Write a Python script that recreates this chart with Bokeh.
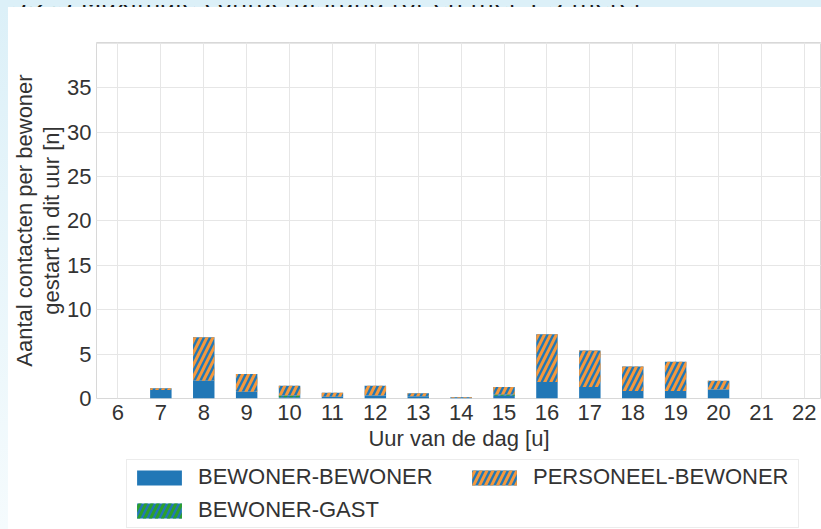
from bokeh.plotting import figure
from bokeh.models import (ColumnDataSource, FixedTicker, Legend, LegendItem,
                          LinearAxis, Range1d, Div)
from bokeh.layouts import column, row
from bokeh.embed import file_html
from bokeh.resources import INLINE

# Contacts per resident started in each hour, split by contact type
hours = [6, 7, 8, 9, 10, 11, 12, 13, 14, 15, 16, 17, 18, 19, 20, 21, 22]
bewoner_bewoner = [0, 0.95, 2.0, 0.75, 0.15, 0.2, 0.35, 0.25, 0.08, 0.3, 1.85, 1.3, 0.85, 0.85, 1.0, 0, 0]
bewoner_gast = [0, 0, 0, 0, 0.2, 0, 0, 0, 0, 0.15, 0, 0, 0, 0, 0, 0, 0]
personeel_bewoner = [0, 0.2, 4.9, 2.0, 1.1, 0.45, 1.1, 0.35, 0.1, 0.85, 5.4, 4.1, 2.75, 3.3, 1.0, 0, 0]

series = ["bewoner_bewoner", "bewoner_gast", "personeel_bewoner"]
series_labels = ["BEWONER-BEWONER", "BEWONER-GAST", "PERSONEEL-BEWONER"]
y_ticks = [0, 5, 10, 15, 20, 25, 30, 35]

BLUE = "#2177b6"
ORANGE = "#f5983c"
GREEN = "#2ca02c"
TEXT = "#333333"
FONT = "Liberation Sans"
SIZE = "22px"

fill_colors = [BLUE, BLUE, BLUE]
hatch_colors = [BLUE, GREEN, ORANGE]
hatch_alphas = [0, 1, 1]
HATCH = dict(hatch_pattern="/", hatch_weight=3, hatch_scale=12)

src = ColumnDataSource(dict(hour=hours, bewoner_bewoner=bewoner_bewoner,
                            bewoner_gast=bewoner_gast,
                            personeel_bewoner=personeel_bewoner))

p = figure(width=813, height=448,
           x_range=Range1d(5.5, 22.4), y_range=Range1d(0, 40.1),
           output_backend="svg", toolbar_location=None,
           min_border_left=88, min_border_right=0,
           min_border_top=35, min_border_bottom=57,
           background_fill_color="white", border_fill_color="white")

bars = p.vbar_stack(series, x="hour", width=0.5, source=src,
                    fill_color=fill_colors, line_color=None,
                    hatch_color=hatch_colors, hatch_alpha=hatch_alphas, **HATCH)

# axes and grid
p.xaxis.ticker = FixedTicker(ticks=hours)
p.yaxis.ticker = FixedTicker(ticks=y_ticks)
p.xgrid.ticker = FixedTicker(ticks=hours)
p.ygrid.ticker = FixedTicker(ticks=y_ticks + [40])
for g in (p.xgrid, p.ygrid):
    g.grid_line_color = "#e6e6e6"
    g.grid_line_width = 1
p.outline_line_color = "#d8d8d8"

for ax in (p.xaxis, p.yaxis):
    ax.axis_line_color = None
    ax.major_tick_line_color = None
    ax.minor_tick_line_color = None
    ax.major_tick_out = 0
    ax.major_tick_in = 0
    ax.minor_tick_out = 0
    ax.major_label_text_font = FONT
    ax.major_label_text_font_size = SIZE
    ax.major_label_text_color = TEXT
    ax.axis_label_text_font = FONT
    ax.axis_label_text_font_size = SIZE
    ax.axis_label_text_font_style = "normal"
    ax.axis_label_text_color = TEXT

p.xaxis.axis_label = "Uur van de dag [u]"
p.xaxis.major_label_standoff = 6
p.xaxis.axis_label_standoff = 3
p.yaxis.axis_label = "gestart in dit uur [n]"
p.yaxis.major_label_standoff = 5
p.yaxis.axis_label_standoff = 0

# first line of the two-line y label
outer = LinearAxis(ticker=FixedTicker(ticks=[]),
                   axis_label="Aantal contacten per bewoner",
                   axis_line_color=None, major_tick_line_color=None,
                   minor_tick_line_color=None, major_label_standoff=0,
                   major_tick_out=0, major_tick_in=0, minor_tick_out=0,
                   axis_label_standoff=0,
                   axis_label_text_font=FONT, axis_label_text_font_size=SIZE,
                   axis_label_text_font_style="normal",
                   axis_label_text_color=TEXT)
p.add_layout(outer, "left")

# legend strip under the chart; its key renderers carry the same styles and
# one point that lies outside the visible range
lg = figure(width=813, height=74, x_range=Range1d(0, 1), y_range=Range1d(0, 1),
            output_backend="svg", toolbar_location=None,
            x_axis_location=None, y_axis_location=None,
            min_border=0, outline_line_color=None,
            background_fill_color="white", border_fill_color="white")
lg.grid.visible = False
offscreen = ColumnDataSource(dict(x=[-10], top=[0]))
keys = []
for fc, hc, ha in zip(fill_colors, hatch_colors, hatch_alphas):
    keys.append(lg.vbar(x="x", top="top", width=0.5, source=offscreen,
                        fill_color=fc, line_color=None,
                        hatch_color=hc, hatch_alpha=ha, **HATCH))

order = [0, 2, 1]
legend = Legend(items=[LegendItem(label=series_labels[i], renderers=[keys[i]])
                       for i in order],
                nrows=2, orientation="horizontal", location=(30, 1),
                label_text_font=FONT, label_text_font_size=SIZE,
                label_text_color=TEXT, glyph_width=56, glyph_height=19,
                label_standoff=11, label_width=261, spacing=7, padding=4,
                border_line_color="#d9d9d9", background_fill_color="white")
lg.add_layout(legend, "center")

header = Div(
    text='<div style="height:7px;overflow:hidden;">'
         '<div style="margin-top:-15px;margin-left:12px;'
         "font-family:'DejaVu Sans';font-size:24px;line-height:24px;"
         'white-space:nowrap;color:#1a1a1a;">'
         '3.2.3 Maximale contactafstand tot en met 1,5 meter</div></div>',
    width=821, height=7, margin=0,
    styles={"background-color": "#dcf0f8", "overflow": "hidden"})
strip = Div(text="", width=8, height=522, margin=0,
            styles={"background": "linear-gradient(#dcf0f8, #f5fbfd)"})

layout = column(header, row(strip, column(p, lg, spacing=0), spacing=0),
                spacing=0)

open("out.html", "w").write(file_html(layout, INLINE))
